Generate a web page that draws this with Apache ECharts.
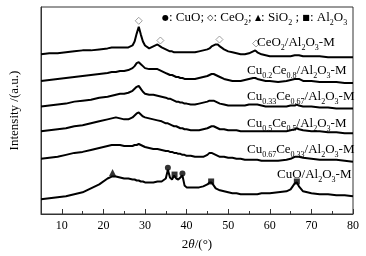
<!DOCTYPE html>
<html><head><meta charset="utf-8">
<script src="https://cdn.jsdelivr.net/npm/echarts@6/dist/echarts.min.js"></script>
<style>html,body{margin:0;padding:0;background:#fff}#c{width:366px;height:256px}</style>
</head><body><div id="c"></div>
<script>
// 2θ angles (degrees) shared by all patterns
const angles = [5,7,9,11,13,15,17,19,21,22,23,24,25,26,27,27.5,28,28.5,29,29.5,30,31,32,33,34,35,35.5,36,36.5,37,37.5,38,38.5,39,39.5,40,41,42,43,44,45,45.5,46,46.5,47,47.5,48,49,50,51,52,53,54,55,56,56.5,57,58,59,60,62,64,65,66,66.5,67,68,70,72,74,76,78,80];
// intensities (a.u., stacked with offsets)
const ceo2 = [162,163,163,164,165,166,166,167,168,169,169,169,169,169,171,175,183,190,182,175,171,168,170,172,169,167,166,165,165,164,164,164,164,164,164,164,164,164,165,166,167,168,170,171,172,172,170,167,165,164,163,162,162,163,165,166,164,162,161,160,160,160,160,161,161,161,160,160,160,159,159,159,159];
const cu02 = [135,136,137,138,139,140,141,142,143,144,144,145,145,146,148,150,153,154,152,150,148,147,147,147,145,143,142,141,141,140,139,139,138,138,137,137,137,137,138,139,140,141,142,142,141,140,139,137,136,135,135,135,136,137,138,138,137,136,135,135,134,135,136,137,137,137,135,135,134,134,134,133,133];
const cu033 = [109,110,111,112,114,115,116,118,119,120,121,122,122,123,125,127,129,130,127,124,122,121,121,120,119,118,117,117,116,115,114,114,113,113,112,112,111,111,112,113,114,115,115,115,114,113,112,111,110,110,110,110,110,111,111,111,111,110,109,109,109,109,110,110,111,110,109,109,108,108,107,107,107];
const cu05 = [84,85,86,87,89,90,92,94,96,97,98,97,96,96,98,100,102,103,101,99,98,97,96,95,94,92,92,91,90,89,89,88,87,87,86,86,85,85,85,86,87,88,89,89,88,87,86,86,85,85,85,84,84,84,84,84,84,84,84,84,84,84,85,86,87,86,85,84,84,83,83,82,82];
const cu067 = [56,57,58,60,62,63,65,67,69,70,70,70,69,69,69,70,70,71,70,69,68,67,66,66,65,64,64,63,63,62,62,61,61,60,60,59,59,58,58,58,60,62,62,61,60,59,58,58,57,57,56,56,55,55,55,55,55,54,54,54,54,55,56,58,58,58,57,56,55,55,55,54,53];
const cuo = [15,16,17,18,20,22,26,30,36,38,38,37,36,36,35,35,34,34,33,33,32,32,32,33,33,36,45,37,35,39,36,35,37,39,29,27,27,27,27,28,30,32,32,29,26,25,24,23,22,21,21,20,20,20,20,20,20,21,21,21,22,23,25,31,32,28,23,21,20,20,19,19,18];
// phase markers [2θ, height]
const ceo2Marks = [[28.5,196],[33.7,176],[47.9,177],[56.7,173]];
const sio2Marks = [[22.2,42]];
const cuoMarks = [[35.5,47],[39.0,41]];
const al2o3Marks = [[37.1,40],[45.9,33],[66.5,33]];
// x ticks
const majorTicks = [10,20,30,40,50,60,70,80];
const minorTicks = [15,25,35,45,55,65,75];

const FONT = "'Liberation Serif','Times New Roman',serif";
const chart = echarts.init(document.getElementById('c'));
const pair = arr => angles.map((a,i)=>[a,arr[i]]);
const lineSeries = arr => ({type:'line', data:pair(arr), showSymbol:false, symbol:'none',
  lineStyle:{color:'#000', width:2}, silent:true, animation:false});
const mk = (data, symbol, size, color, border) => ({type:'scatter', data, symbol, symbolSize:size,
  itemStyle: border ? {color:'#fff', borderColor:border, borderWidth:1} : {color}, silent:true, animation:false, z:5});

const rich = {
  n:{fontFamily:FONT, fontSize:13, color:'#000', lineHeight:18},
  s:{fontFamily:FONT, fontSize:8, color:'#000', verticalAlign:'bottom', lineHeight:16},
  y:{fontFamily:'DejaVu Sans', fontSize:8, color:'#000', lineHeight:18},
  g:{fontFamily:'DejaVu Sans', fontSize:8, color:'#888', lineHeight:18}
};
const label = (text, x, y) => ({type:'text', x, y, style:{text, rich, verticalAlign:'middle', align:'left'}, z:10});

chart.setOption({
  animation:false,
  backgroundColor:'#fff',
  grid:{left:37, right:13, top:7, bottom:39, show:true, borderColor:'#333', borderWidth:1},
  xAxis:[{
    type:'value', min:5, max:80, interval:5,
    name:'{a|2}{b|θ}{a|/(°)}', nameLocation:'middle', nameGap:24,
    nameTextStyle:{rich:{a:{fontFamily:FONT,fontSize:13,color:'#000'},b:{fontFamily:FONT,fontSize:13,fontStyle:'italic',color:'#000'}}},
    axisLine:{lineStyle:{color:'#333',width:1}},
    axisTick:{inside:true, length:3, lineStyle:{color:'#333'}, customValues:minorTicks},
    axisLabel:{fontFamily:FONT, fontSize:12, color:'#000', margin:6, customValues:majorTicks},
    splitLine:{show:false}
  },{
    type:'value', min:5, max:80, interval:5, position:'bottom',
    axisLine:{show:false},
    axisTick:{inside:true, length:5, lineStyle:{color:'#333'}, customValues:majorTicks},
    axisLabel:{show:false}, splitLine:{show:false}
  }],
  yAxis:{type:'value', min:0, max:210,
    name:'Intensity /(a.u.)', nameLocation:'middle', nameGap:20,
    nameTextStyle:{fontFamily:FONT, fontSize:13, color:'#000'},
    axisLine:{show:true, lineStyle:{color:'#333'}}, axisTick:{show:false}, axisLabel:{show:false}, splitLine:{show:false}},
  series:[
    lineSeries(ceo2), lineSeries(cu02), lineSeries(cu033), lineSeries(cu05), lineSeries(cu067), lineSeries(cuo),
    mk(ceo2Marks,'diamond',7,null,'#888'),
    mk(sio2Marks,'triangle',7,'#000'),
    mk(cuoMarks,'circle',6,'#000'),
    mk(al2o3Marks,'rect',6,'#000')
  ],
  graphic:[
    label('{y|●}{n|: CuO; }{g|◇}{n|: CeO}{s|2}{n|; }{y|▲}{n|: SiO}{s|2}{n| ; }{y|■}{n|: Al}{s|2}{n|O}{s|3}', 162, 18),
    label('{n|CeO}{s|2}{n|/Al}{s|2}{n|O}{s|3}{n|-M}', 257, 43),
    label('{n|Cu}{s|0.2}{n|Ce}{s|0.8}{n|/Al}{s|2}{n|O}{s|3}{n|-M}', 247, 71),
    label('{n|Cu}{s|0.33}{n|Ce}{s|0.67}{n|/Al}{s|2}{n|O}{s|3}{n|-M}', 247, 97),
    label('{n|Cu}{s|0.5}{n|Ce}{s|0.5}{n|/Al}{s|2}{n|O}{s|3}{n|-M}', 247, 124),
    label('{n|Cu}{s|0.67}{n|Ce}{s|0.33}{n|/Al}{s|2}{n|O}{s|3}{n|-M}', 247, 150),
    label('{n|CuO/Al}{s|2}{n|O}{s|3}{n|-M}', 277, 175)
  ]
});
</script></body></html>
